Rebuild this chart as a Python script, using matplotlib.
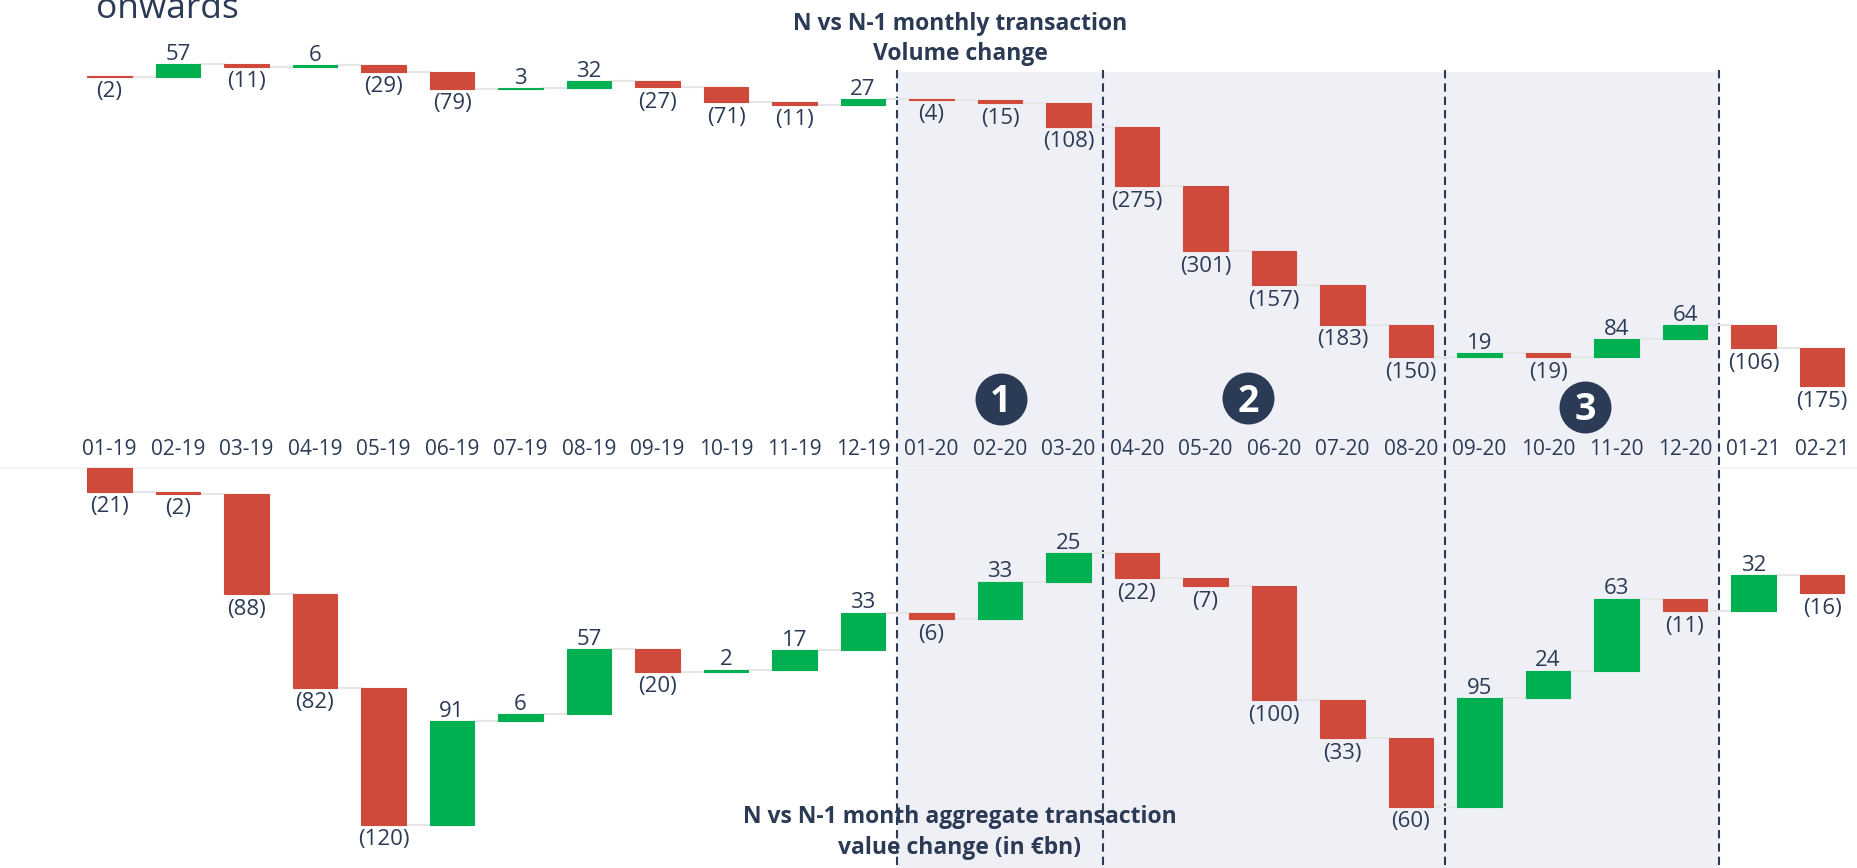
import numpy as np
import matplotlib
matplotlib.use("Agg")
import matplotlib.pyplot as plt
from matplotlib.patches import Rectangle

# ---------------- data ----------------
months = ['01-19', '02-19', '03-19', '04-19', '05-19', '06-19', '07-19', '08-19',
          '09-19', '10-19', '11-19', '12-19', '01-20', '02-20', '03-20', '04-20',
          '05-20', '06-20', '07-20', '08-20', '09-20', '10-20', '11-20', '12-20',
          '01-21', '02-21']
volume_change = [-2, 57, -11, 6, -29, -79, 3, 32, -27, -71, -11, 27,
                 -4, -15, -108, -275, -301, -157, -183, -150, 19, -19, 84, 64,
                 -106, -175]
value_change = [-21, -2, -88, -82, -120, 91, 6, 57, -20, 2, 17, 33,
                -6, 33, 25, -22, -7, -100, -33, -60, 95, 24, 63, -11,
                32, -16]
phase_labels = ['1', '2', '3']
title_volume = ['N vs N-1 monthly transaction', 'Volume change']
title_value = ['N vs N-1 month aggregate transaction', 'value change (in €bn)']

# ---------------- style ----------------
W, H = 1857, 868
NAVY = '#2B3A55'
RED = '#D04A3B'
GREEN = '#00B050'
SHADE = '#EEF0F6'
CONNECT = '#E6E6E6'
FONT = ['Open Sans', 'DejaVu Sans']
plt.rcParams['font.family'] = FONT

x0_px, step_px = 109.5, 68.5
xlim = (-x0_px / step_px, (W - x0_px) / step_px)
bar_w = 0.645

fig = plt.figure(figsize=(W / 100, H / 100), dpi=100)

# background axes: x in category units, y in pixels from the top
ax_bg = fig.add_axes([0, 0, 1, 1])
ax_bg.set_xlim(*xlim)
ax_bg.set_ylim(H, 0)
ax_bg.axis('off')

# shaded period and dashed separators
ax_bg.add_patch(Rectangle((11.5, 72), 12, H - 72, facecolor=SHADE,
                          edgecolor='none', zorder=0))
for xs in [11.5, 14.5, 19.5, 23.5]:
    ax_bg.plot([xs, xs], [70, H], color=NAVY, lw=1.5,
               linestyle=(0, (4, 2.4)), zorder=1)
ax_bg.plot(list(xlim), [468, 468], color='#F3F3F6', lw=1.2, zorder=0.5)

# partial title at the top
ax_bg.text(96 / step_px - x0_px / step_px, 18.5, 'onwards', fontsize=25.5,
           color=NAVY, ha='left', va='baseline')

# category labels
xs = np.arange(len(months))
for i, m in enumerate(months):
    ax_bg.text(i, 455, m, fontsize=15, color=NAVY, ha='center', va='baseline')

# panel titles
tx = (960 - x0_px) / step_px
for line, yb in zip(title_volume, [30, 60]):
    ax_bg.text(tx, yb, line, fontsize=16.5, fontweight='bold', color=NAVY,
               ha='center', va='baseline')
for line, yb in zip(title_value, [823, 853.5]):
    ax_bg.text(tx, yb, line, fontsize=16.5, fontweight='bold', color=NAVY,
               ha='center', va='baseline', zorder=3)

# phase markers
circ_x = [(1001 - x0_px) / step_px, (1248 - x0_px) / step_px, (1585 - x0_px) / step_px]
circ_y = [399, 398, 407]
ax_bg.scatter(circ_x, circ_y, s=1400, color=NAVY, zorder=4, linewidths=0)
for cx, cy, lab in zip(circ_x, circ_y, phase_labels):
    ax_bg.text(cx, cy + 13.5, lab, fontsize=27, fontweight='bold', color='white',
               ha='center', va='baseline', zorder=5)


def waterfall(ax, values):
    vals = np.array(values, dtype=float)
    ends = np.cumsum(vals)
    starts = ends - vals
    colors = [GREEN if v > 0 else RED for v in vals]
    ax.bar(xs, vals, bottom=starts, width=bar_w, color=colors,
           edgecolor=colors, linewidth=0.8, zorder=3)
    for i in range(len(vals) - 1):
        ax.plot([i + bar_w / 2, i + 1 - bar_w / 2], [ends[i], ends[i]],
                color=CONNECT, lw=1.5, zorder=2)
    for i, v in enumerate(values):
        if v < 0:
            ax.annotate(f'({abs(v)})', (i, min(starts[i], ends[i])),
                        xytext=(0, -14.8), textcoords='offset points',
                        ha='center', va='baseline', fontsize=16, color=NAVY)
        else:
            ax.annotate(f'{v}', (i, max(starts[i], ends[i])),
                        xytext=(0, 3.2), textcoords='offset points',
                        ha='center', va='baseline', fontsize=16, color=NAVY)


# top panel: volume
top_px = 440
kt, zt = 0.2165, 76.3
ax_top = fig.add_axes([0, 1 - top_px / H, 1, top_px / H])
ax_top.set_facecolor('none')
ax_top.set_xlim(*xlim)
ax_top.set_ylim((zt - top_px) / kt, zt / kt)
ax_top.axis('off')
waterfall(ax_top, volume_change)

# bottom panel: value
b_top_px = 455
kb, zb = 1.141, 467.7
ax_bot = fig.add_axes([0, 0, 1, (H - b_top_px) / H])
ax_bot.set_facecolor('none')
ax_bot.set_xlim(*xlim)
ax_bot.set_ylim((zb - H) / kb, (zb - b_top_px) / kb)
ax_bot.axis('off')
waterfall(ax_bot, value_change)

fig.savefig('out.png', dpi=100)
